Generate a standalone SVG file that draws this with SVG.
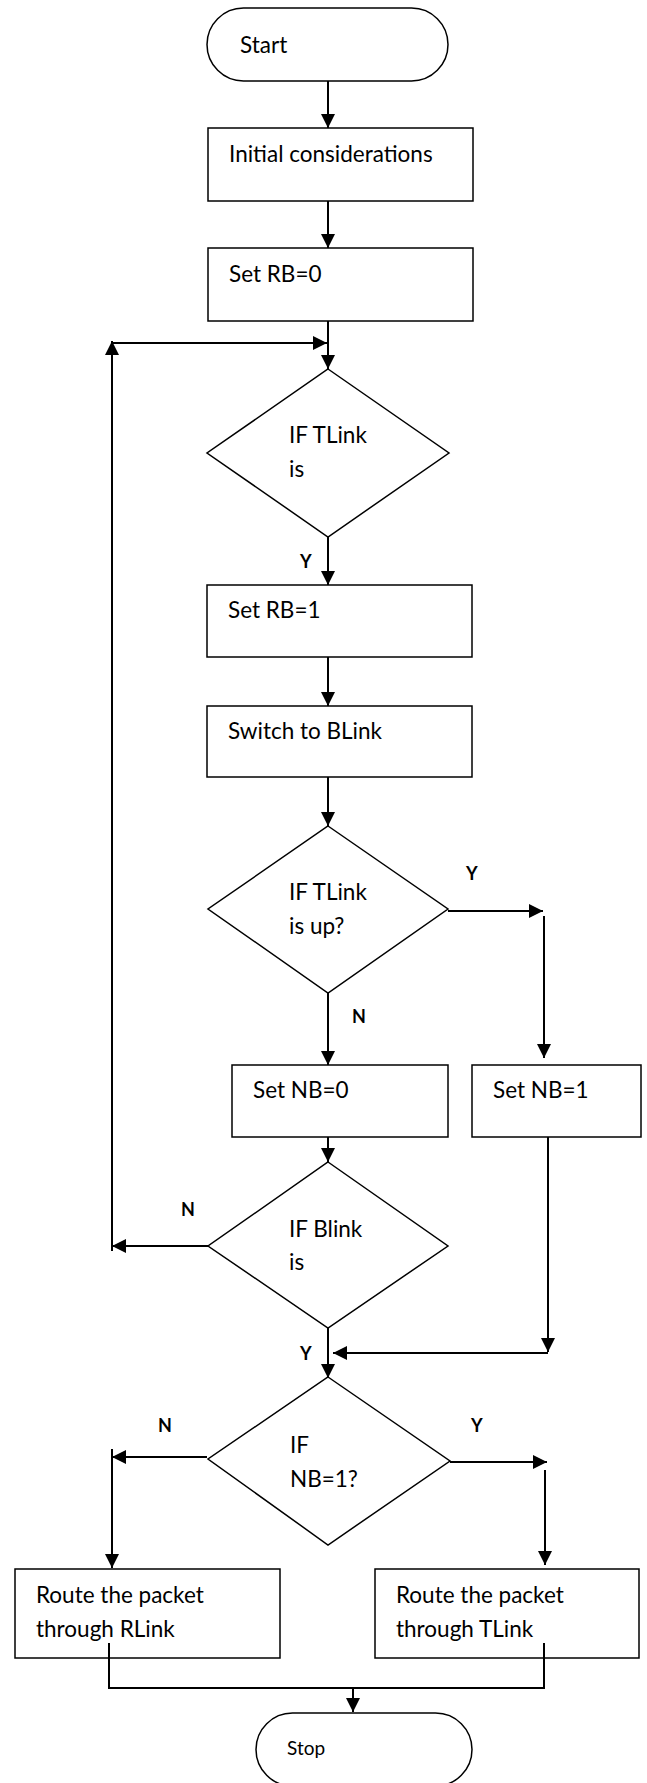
<svg xmlns="http://www.w3.org/2000/svg" width="647" height="1783" viewBox="0 0 647 1783">
<defs>
<style>
.shape{fill:#fff;stroke:#000;stroke-width:1.5}
.c{fill:none;stroke:#000;stroke-width:2}
.a{marker-end:url(#ah)}
.t{font-family:Lato,"Liberation Sans",sans-serif;font-size:22.5px;fill:#000}
.s{font-family:Lato,"Liberation Sans",sans-serif;font-size:19px;fill:#000}
.l{font-family:Lato,"Liberation Sans",sans-serif;font-size:18px;font-weight:bold;fill:#000}
</style>
<marker id="ah" viewBox="0 0 14 14" refX="14" refY="7" markerWidth="14" markerHeight="14" markerUnits="userSpaceOnUse" orient="auto">
<path d="M0,0 L14,7 L0,14 z" fill="#000"/>
</marker>
</defs>
<rect width="647" height="1783" fill="#fff"/>
<g id="start">
<rect class="shape" x="207" y="8" width="241" height="73" rx="36.5"/>
<text class="t" x="240" y="53">Start</text>
</g>
<g id="initial">
<rect class="shape" x="208" y="128" width="265" height="73"/>
<text class="t" x="229" y="162">Initial considerations</text>
</g>
<g id="setrb0">
<rect class="shape" x="208" y="248" width="265" height="73"/>
<text class="t" x="229" y="282">Set RB=0</text>
</g>
<g id="d1">
<polygon class="shape" points="328,369 449,453 328,537 207,453"/>
<text class="t" x="289" y="443">IF TLink</text>
<text class="t" x="289" y="477">is</text>
</g>
<g id="setrb1">
<rect class="shape" x="207" y="585" width="265" height="72"/>
<text class="t" x="228" y="618">Set RB=1</text>
</g>
<g id="switch">
<rect class="shape" x="207" y="706" width="265" height="71"/>
<text class="t" x="228" y="739">Switch to BLink</text>
</g>
<g id="d2">
<polygon class="shape" points="328,826 448,909 328,993 208,909"/>
<text class="t" x="289" y="900">IF TLink</text>
<text class="t" x="289" y="934">is up?</text>
</g>
<g id="setnb0">
<rect class="shape" x="232" y="1065" width="216" height="72"/>
<text class="t" x="253" y="1098">Set NB=0</text>
</g>
<g id="setnb1">
<rect class="shape" x="472" y="1065" width="169" height="72"/>
<text class="t" x="493" y="1098">Set NB=1</text>
</g>
<g id="d3">
<polygon class="shape" points="328,1162 448,1246 328,1328 208,1246"/>
<text class="t" x="289" y="1237">IF Blink</text>
<text class="t" x="289" y="1270">is</text>
</g>
<g id="d4">
<polygon class="shape" points="328,1377 450,1461 328,1545 208,1459"/>
<text class="t" x="290" y="1453">IF</text>
<text class="t" x="290" y="1487">NB=1?</text>
</g>
<g id="router">
<rect class="shape" x="15" y="1569" width="265" height="89"/>
<text class="t" x="36" y="1603">Route the packet</text>
<text class="t" x="36" y="1637">through RLink</text>
</g>
<g id="routet">
<rect class="shape" x="375" y="1569" width="264" height="89"/>
<text class="t" x="396" y="1603">Route the packet</text>
<text class="t" x="396" y="1637">through TLink</text>
</g>
<g id="stop">
<rect class="shape" x="256" y="1713" width="216" height="73" rx="36.5"/>
<text class="s" x="287" y="1755">Stop</text>
</g>
<g id="connectors">
<line class="c a" x1="328" y1="81" x2="328" y2="128"/>
<line class="c a" x1="328" y1="201" x2="328" y2="248"/>
<line class="c a" x1="328" y1="321" x2="328" y2="369"/>
<line class="c a" x1="112" y1="1251" x2="112" y2="341"/>
<line class="c a" x1="112" y1="343" x2="327" y2="343"/>
<line class="c a" x1="328" y1="537" x2="328" y2="585"/>
<line class="c a" x1="328" y1="657" x2="328" y2="706"/>
<line class="c a" x1="328" y1="777" x2="328" y2="826"/>
<line class="c a" x1="448" y1="911" x2="543" y2="911"/>
<line class="c a" x1="544" y1="916" x2="544" y2="1058"/>
<line class="c a" x1="328" y1="993" x2="328" y2="1065"/>
<line class="c a" x1="328" y1="1137" x2="328" y2="1162"/>
<line class="c a" x1="208" y1="1246" x2="112" y2="1246"/>
<line class="c a" x1="548" y1="1137" x2="548" y2="1352"/>
<line class="c a" x1="548" y1="1353" x2="333" y2="1353"/>
<line class="c a" x1="328" y1="1328" x2="328" y2="1378"/>
<line class="c a" x1="207" y1="1457" x2="112" y2="1457"/>
<line class="c a" x1="112" y1="1449" x2="112" y2="1568"/>
<line class="c a" x1="450" y1="1462" x2="547" y2="1462"/>
<line class="c a" x1="545" y1="1470" x2="545" y2="1565"/>
<polyline class="c" points="109,1643 109,1688 544,1688 544,1643"/>
<line class="c a" x1="353" y1="1688" x2="353" y2="1712"/>
<text class="l" x="300" y="568">Y</text>
<text class="l" x="466" y="880">Y</text>
<text class="l" x="352" y="1023">N</text>
<text class="l" x="181" y="1216">N</text>
<text class="l" x="300" y="1360">Y</text>
<text class="l" x="158" y="1432">N</text>
<text class="l" x="471" y="1432">Y</text>
</g>
</svg>
